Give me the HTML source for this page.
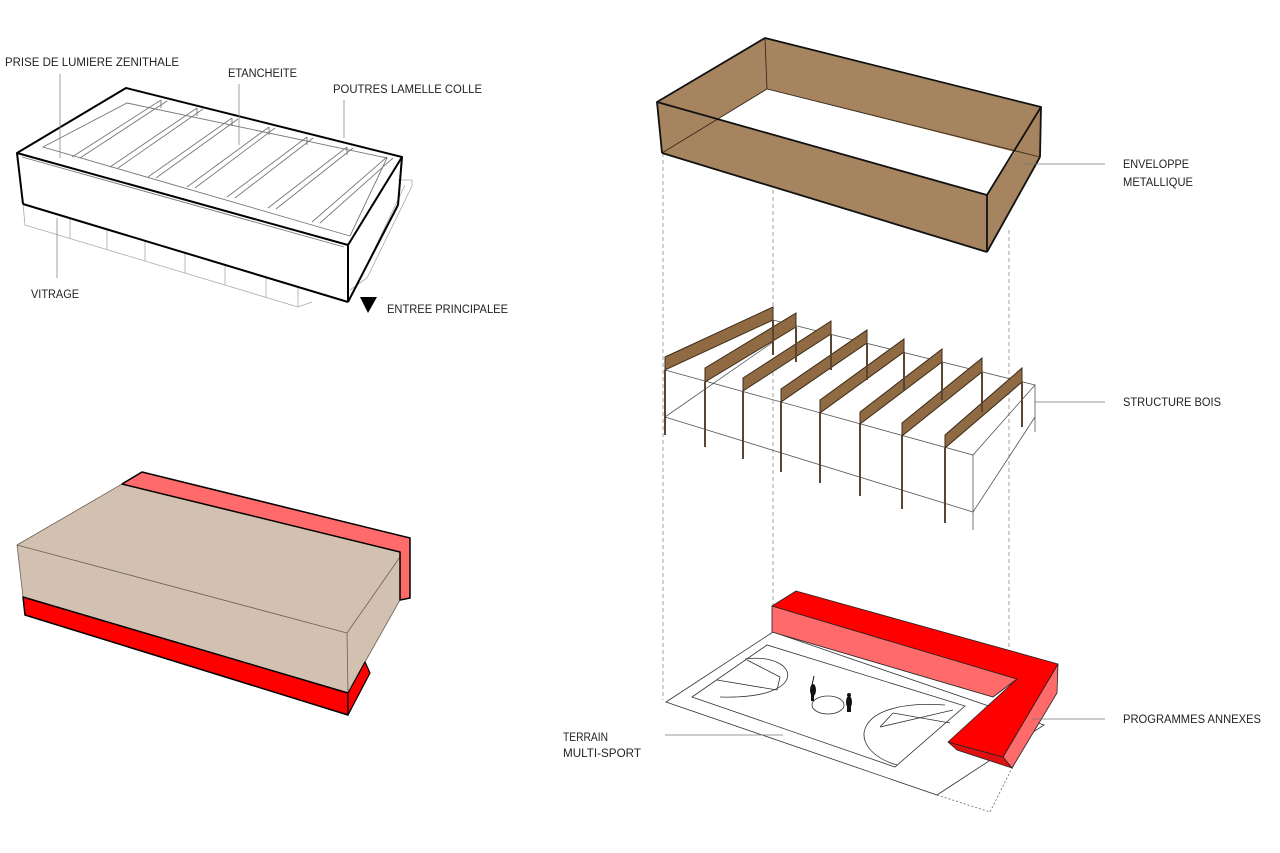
<!DOCTYPE html>
<html><head><meta charset="utf-8"><style>
html,body{margin:0;padding:0;background:#fff;}
svg{display:block;}
text{font-family:"Liberation Sans","DejaVu Sans",sans-serif;font-size:11.5px;fill:#222;}
</style></head><body>
<svg width="1280" height="853" viewBox="0 0 1280 853" xmlns="http://www.w3.org/2000/svg">
<!-- ===== TOP LEFT BUILDING ===== -->
<g fill="none" stroke="#aaa" stroke-width="0.8">
  <polyline points="23,204 25,225 298,307 312,302"/>
  <polyline points="398,180 412,180 412,186 367,278 350,290"/>
  <line x1="405" y1="185" x2="362" y2="275"/>
  <line x1="70" y1="218" x2="70" y2="238"/><line x1="107" y1="228" x2="107" y2="250"/>
  <line x1="145" y1="240" x2="145" y2="261"/><line x1="185" y1="252" x2="185" y2="273"/>
  <line x1="225" y1="264" x2="225" y2="285"/><line x1="266" y1="277" x2="266" y2="297"/>
  <line x1="298" y1="287" x2="298" y2="307"/>
</g>
<polygon points="17,153 126,88 402,157 348,245 348,302 23,204" fill="#fff"/>
<g fill="none" stroke="#777" stroke-width="0.9">
  <polygon points="43,147 127,103 387,158 350,236"/>
  <line x1="161" y1="100" x2="72" y2="157"/><line x1="167" y1="101" x2="80" y2="158"/>
  <line x1="197" y1="108" x2="110" y2="167"/><line x1="203" y1="109" x2="118" y2="168"/>
  <line x1="232" y1="118" x2="148" y2="177"/><line x1="238" y1="119" x2="156" y2="178"/>
  <line x1="269" y1="127" x2="187" y2="187"/><line x1="275" y1="128" x2="195" y2="188"/>
  <line x1="307" y1="137" x2="227" y2="197"/><line x1="313" y1="138" x2="235" y2="198"/>
  <line x1="347" y1="147" x2="268" y2="208"/><line x1="353" y1="148" x2="276" y2="209"/>
  <line x1="387" y1="157" x2="312" y2="222"/><line x1="393" y1="158" x2="320" y2="223"/>
  <line x1="161" y1="100" x2="161" y2="108"/><line x1="197" y1="108" x2="197" y2="116"/>
  <line x1="232" y1="118" x2="232" y2="126"/><line x1="269" y1="127" x2="269" y2="135"/>
  <line x1="307" y1="137" x2="307" y2="145"/><line x1="347" y1="147" x2="347" y2="155"/>
  <line x1="22" y1="157" x2="344" y2="247"/>
</g>
<g fill="none" stroke="#000" stroke-width="2" stroke-linejoin="round">
  <polygon points="17,153 126,88 402,157 348,245"/>
  <line x1="17" y1="153" x2="23" y2="204"/>
  <line x1="23" y1="204" x2="348" y2="302"/>
  <line x1="348" y1="245" x2="348" y2="302"/>
  <line x1="402" y1="157" x2="398" y2="205"/>
  <line x1="398" y1="205" x2="348" y2="302"/>
</g>
<polygon points="360,297 377,297 368,313" fill="#000"/>
<g stroke="#888" stroke-width="0.8">
  <line x1="60" y1="74" x2="60" y2="158"/><line x1="239" y1="84" x2="239" y2="145"/>
  <line x1="344" y1="100" x2="344" y2="138"/><line x1="57" y1="218" x2="57" y2="278"/>
</g>
<text x="5" y="66" textLength="174" lengthAdjust="spacingAndGlyphs">PRISE DE LUMIERE ZENITHALE</text>
<text x="228" y="77" textLength="69" lengthAdjust="spacingAndGlyphs">ETANCHEITE</text>
<text x="333" y="93" textLength="149" lengthAdjust="spacingAndGlyphs">POUTRES LAMELLE COLLE</text>
<text x="31" y="298" textLength="48" lengthAdjust="spacingAndGlyphs">VITRAGE</text>
<text x="387" y="313" textLength="121" lengthAdjust="spacingAndGlyphs">ENTREE PRINCIPALEE</text>

<!-- ===== BOTTOM LEFT ===== -->
<polygon points="17,545 122,484 400,552 400,600 365,662 348,693 23,597" fill="#d2c1b0" stroke="#6b5f55" stroke-width="0.8"/>
<g stroke="#6b5f55" stroke-width="0.8" fill="none">
  <line x1="17" y1="545" x2="347" y2="633"/><line x1="347" y1="633" x2="400" y2="557"/>
  <line x1="347" y1="633" x2="348" y2="693"/>
</g>
<polygon points="122,484 142,472 410,538 410,598 400,600 400,552" fill="#ff6b6b" stroke="#000" stroke-width="1.5" stroke-linejoin="round"/>
<polygon points="23,597 348,693 348,715 25,615" fill="#ff0000" stroke="#000" stroke-width="1.5" stroke-linejoin="round"/>
<polygon points="348,693 365,662 370,673 348,715" fill="#ff0000" stroke="#000" stroke-width="1.2" stroke-linejoin="round"/>

<!-- ===== DASHED VERTICALS ===== -->
<g stroke="#999" stroke-width="0.9" stroke-dasharray="4,3" fill="none">
  <line x1="663" y1="153" x2="663" y2="700"/>
  <line x1="773" y1="190" x2="773" y2="606"/>
  <line x1="1009" y1="230" x2="1009" y2="760"/>
</g>
<g stroke="#777" stroke-width="0.9" stroke-dasharray="2,2" fill="none">
  <polyline points="937,795 990,812 1012,768"/>
</g>

<!-- ===== ENVELOPPE ===== -->
<polygon points="657,102 765,38 1041,107 1040,157 987,252 662,153" fill="#a5845f"/>
<polygon points="767,89 1015,152 987,195 717,119" fill="#fff"/>
<g fill="none" stroke="#3a2a1a" stroke-width="0.9">
  <polyline points="662,153 767,89 1040,157"/>
  <line x1="765" y1="38" x2="767" y2="89"/>
</g>
<g fill="none" stroke="#111" stroke-width="1.8" stroke-linejoin="round">
  <polygon points="657,102 765,38 1041,107 987,195"/>
  <line x1="657" y1="102" x2="662" y2="153"/>
  <line x1="662" y1="153" x2="987" y2="252"/>
  <line x1="987" y1="195" x2="987" y2="252"/>
  <line x1="1041" y1="107" x2="1040" y2="157"/>
  <line x1="1040" y1="157" x2="987" y2="252"/>
</g>

<!-- ===== STRUCTURE ===== -->
<g fill="none" stroke="#555" stroke-width="0.8">
  <polyline points="665,370 973,455 1035,385 773,320"/>
  <polyline points="665,417 973,512 1035,417"/>
  <line x1="665" y1="417" x2="773" y2="342"/>
  <line x1="973" y1="455" x2="973" y2="530"/>
  <line x1="1035" y1="385" x2="1035" y2="432"/>
</g>
<g fill="#8f6a42" stroke="#3b2a18" stroke-width="1">
  <polygon points="665,357 773,307 773,320 665,370"/>
  <polygon points="705,368 796,313 796,327 705,382"/>
  <polygon points="743,378 831,321 831,334 743,391"/>
  <polygon points="781,389 867,330 867,343 781,402"/>
  <polygon points="820,400 904,339 904,352 820,413"/>
  <polygon points="860,412 942,349 942,362 860,424"/>
  <polygon points="902,423 982,358 982,372 902,436"/>
  <polygon points="945,435 1022,368 1022,382 945,448"/>
</g>
<g stroke="#5a4530" stroke-width="2">
  <line x1="665" y1="370" x2="665" y2="435"/><line x1="705" y1="382" x2="705" y2="447"/>
  <line x1="743" y1="391" x2="743" y2="459"/><line x1="781" y1="402" x2="781" y2="472"/>
  <line x1="820" y1="413" x2="820" y2="483"/><line x1="860" y1="424" x2="860" y2="496"/>
  <line x1="902" y1="436" x2="902" y2="509"/><line x1="945" y1="448" x2="945" y2="523"/>
  <line x1="773" y1="320" x2="773" y2="355"/><line x1="796" y1="327" x2="796" y2="362"/>
  <line x1="831" y1="334" x2="831" y2="370"/><line x1="867" y1="343" x2="867" y2="380"/>
  <line x1="904" y1="352" x2="904" y2="390"/><line x1="942" y1="362" x2="942" y2="400"/>
  <line x1="982" y1="372" x2="982" y2="412"/><line x1="1022" y1="382" x2="1022" y2="427"/>
</g>

<!-- ===== COURT ===== -->
<g fill="none" stroke="#333" stroke-width="0.8">
  <polygon points="666,702 773,632 1044,725 937,795"/>
  <polygon points="692,697 767,645 965,706 895,767"/>
  <path d="M745,659 C800,652 812,700 720,697"/>
  <line x1="717" y1="680" x2="777" y2="690"/>
  <line x1="747" y1="660" x2="780" y2="677"/>
  <line x1="777" y1="690" x2="780" y2="677"/>
  <ellipse cx="828" cy="705" rx="16" ry="9"/>
  <path d="M897,765 C845,750 850,698 945,705"/>
  <line x1="880" y1="727" x2="953" y2="710"/>
  <line x1="893" y1="713" x2="950" y2="723"/>
  <line x1="880" y1="727" x2="893" y2="713"/>
</g>
<g fill="#111">
  <ellipse cx="813" cy="690" rx="3" ry="6"/><rect x="811" y="694" width="3" height="7"/>
  <line x1="812" y1="685" x2="814" y2="676" stroke="#111" stroke-width="1"/>
  <ellipse cx="849" cy="702" rx="3" ry="6"/><rect x="847" y="706" width="4" height="6"/>
  <circle cx="849" cy="695" r="2"/>
</g>
<polygon points="772,632 772,606 1017,679 993,697" fill="#ff6b6b" stroke="#222" stroke-width="0.8"/>
<polygon points="1058,664 1003,757 1012,768 1057,693" fill="#ff6b6b" stroke="#222" stroke-width="0.8"/>
<polygon points="948,742 1003,757 1012,768 957,750" fill="#e01010" stroke="#222" stroke-width="0.8"/>
<polygon points="772,606 796,591 1058,664 1003,757 948,742 1017,679" fill="#ff0000" stroke="#222" stroke-width="0.8" stroke-linejoin="round"/>

<!-- ===== LEADERS & LABELS RIGHT ===== -->
<g stroke="#777" stroke-width="0.8">
  <line x1="1024" y1="164" x2="1105" y2="164"/>
  <line x1="1035" y1="402" x2="1105" y2="402"/>
  <line x1="1032" y1="719" x2="1105" y2="719"/>
  <line x1="665" y1="735" x2="783" y2="735"/>
</g>
<text x="1123" y="168" textLength="66" lengthAdjust="spacingAndGlyphs">ENVELOPPE</text>
<text x="1123" y="186" textLength="70" lengthAdjust="spacingAndGlyphs">METALLIQUE</text>
<text x="1123" y="406" textLength="98" lengthAdjust="spacingAndGlyphs">STRUCTURE BOIS</text>
<text x="1123" y="723" textLength="138" lengthAdjust="spacingAndGlyphs">PROGRAMMES ANNEXES</text>
<text x="563" y="741" textLength="45" lengthAdjust="spacingAndGlyphs">TERRAIN</text>
<text x="563" y="757" textLength="78" lengthAdjust="spacingAndGlyphs">MULTI-SPORT</text>
</svg>
</body></html>
